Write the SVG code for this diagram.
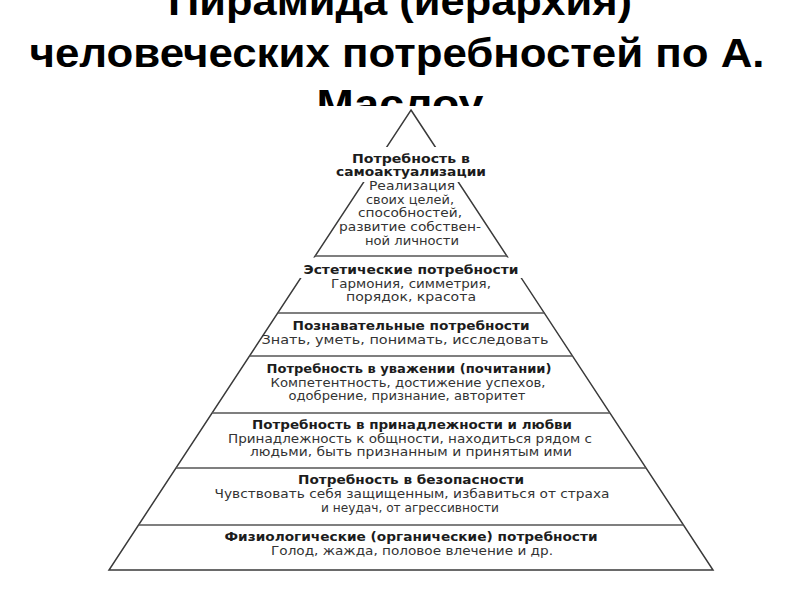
<svg xmlns="http://www.w3.org/2000/svg" width="800" height="600" viewBox="0 0 800 600">
  <defs>
    <style>
      .t { font-family: "Liberation Sans", Arial, sans-serif; font-weight: bold; font-size: 41px; fill: #000; text-anchor: middle; }
      .h { font-family: "DejaVu Sans", "Liberation Sans", sans-serif; font-weight: bold; font-size: 11.5px; fill: #1c1c1c; text-anchor: middle; }
      .d { font-family: "DejaVu Sans", "Liberation Sans", sans-serif; font-size: 11.5px; fill: #333; text-anchor: middle; }
      .edge { fill: none; stroke: #3a3a3a; stroke-width: 1.5; stroke-linejoin: miter; }
      .div { stroke: #555; stroke-width: 1.3; }
      .ko { fill: #fff; }
    </style>
    <clipPath id="cutTitle">
      <rect x="0" y="0" width="800" height="106"/>
    </clipPath>
  </defs>
  <rect x="0" y="0" width="800" height="600" fill="#fff"/>

  <g id="title">
    <text class="t" x="400" y="15" textLength="464" lengthAdjust="spacingAndGlyphs">Пирамида (иерархия)</text>
    <text class="t" x="397" y="67" textLength="735" lengthAdjust="spacingAndGlyphs">человеческих потребностей по А.</text>
    <text class="t" x="400" y="118" textLength="167" lengthAdjust="spacingAndGlyphs" clip-path="url(#cutTitle)">Маслоу</text>
  </g>

  <g id="connectors">
    <polygon class="edge" points="411,110 713,570 109,570"/>
    <line class="div" x1="315.2" y1="256" x2="506.8" y2="256"/>
    <line class="div" x1="277.7" y1="313" x2="544.3" y2="313"/>
    <line class="div" x1="249.5" y1="356" x2="572.5" y2="356"/>
    <line class="div" x1="212.1" y1="413" x2="609.9" y2="413"/>
    <line class="div" x1="176" y1="468" x2="646" y2="468"/>
    <line class="div" x1="138.5" y1="525" x2="683.5" y2="525"/>
  </g>

  <g id="self-actualization">
    <rect class="ko" x="336" y="147" width="152" height="35"/>
    <text class="h" x="411" y="163" textLength="118" lengthAdjust="spacingAndGlyphs">Потребность в</text>
    <text class="h" x="411" y="176" textLength="150" lengthAdjust="spacingAndGlyphs">самоактуализации</text>
    <text class="d" x="412" y="190" textLength="86" lengthAdjust="spacingAndGlyphs">Реализация</text>
    <text class="d" x="410" y="204" textLength="88" lengthAdjust="spacingAndGlyphs">своих целей,</text>
    <text class="d" x="410" y="217" textLength="104" lengthAdjust="spacingAndGlyphs">способностей,</text>
    <text class="d" x="410" y="231" textLength="142" lengthAdjust="spacingAndGlyphs">развитие собствен-</text>
    <text class="d" x="412" y="245" textLength="94" lengthAdjust="spacingAndGlyphs">ной личности</text>
  </g>

  <g id="aesthetic">
    <rect class="ko" x="300" y="257.5" width="222" height="20.5"/>
    <text class="h" x="411" y="274" textLength="215" lengthAdjust="spacingAndGlyphs">Эстетические потребности</text>
    <text class="d" x="411" y="288" textLength="160" lengthAdjust="spacingAndGlyphs">Гармония, симметрия,</text>
    <text class="d" x="411" y="301" textLength="130" lengthAdjust="spacingAndGlyphs">порядок, красота</text>
  </g>

  <g id="cognitive">
    <text class="h" x="411" y="330" textLength="237" lengthAdjust="spacingAndGlyphs">Познавательные потребности</text>
    <text class="d" x="405" y="344" textLength="287" lengthAdjust="spacingAndGlyphs">Знать, уметь, понимать, исследовать</text>
  </g>

  <g id="esteem">
    <text class="h" x="409" y="373" textLength="285" lengthAdjust="spacingAndGlyphs">Потребность в уважении (почитании)</text>
    <text class="d" x="408" y="387" textLength="275" lengthAdjust="spacingAndGlyphs">Компетентность, достижение успехов,</text>
    <text class="d" x="407" y="400" textLength="237" lengthAdjust="spacingAndGlyphs">одобрение, признание, авторитет</text>
  </g>

  <g id="belonging">
    <text class="h" x="412" y="429" textLength="320" lengthAdjust="spacingAndGlyphs">Потребность в принадлежности и любви</text>
    <text class="d" x="410" y="443" textLength="364" lengthAdjust="spacingAndGlyphs">Принадлежность к общности, находиться рядом с</text>
    <text class="d" x="411" y="456" textLength="322" lengthAdjust="spacingAndGlyphs">людьми, быть признанным и принятым ими</text>
  </g>

  <g id="safety">
    <text class="h" x="411" y="484" textLength="226" lengthAdjust="spacingAndGlyphs">Потребность в безопасности</text>
    <text class="d" x="412" y="498" textLength="395" lengthAdjust="spacingAndGlyphs">Чувствовать себя защищенным, избавиться от страха</text>
    <text class="d" x="410" y="512" textLength="178" lengthAdjust="spacingAndGlyphs">и неудач, от агрессивности</text>
  </g>

  <g id="physiological">
    <text class="h" x="411" y="541" textLength="373" lengthAdjust="spacingAndGlyphs">Физиологические (органические) потребности</text>
    <text class="d" x="412" y="555" textLength="282" lengthAdjust="spacingAndGlyphs">Голод, жажда, половое влечение и др.</text>
  </g>
</svg>
